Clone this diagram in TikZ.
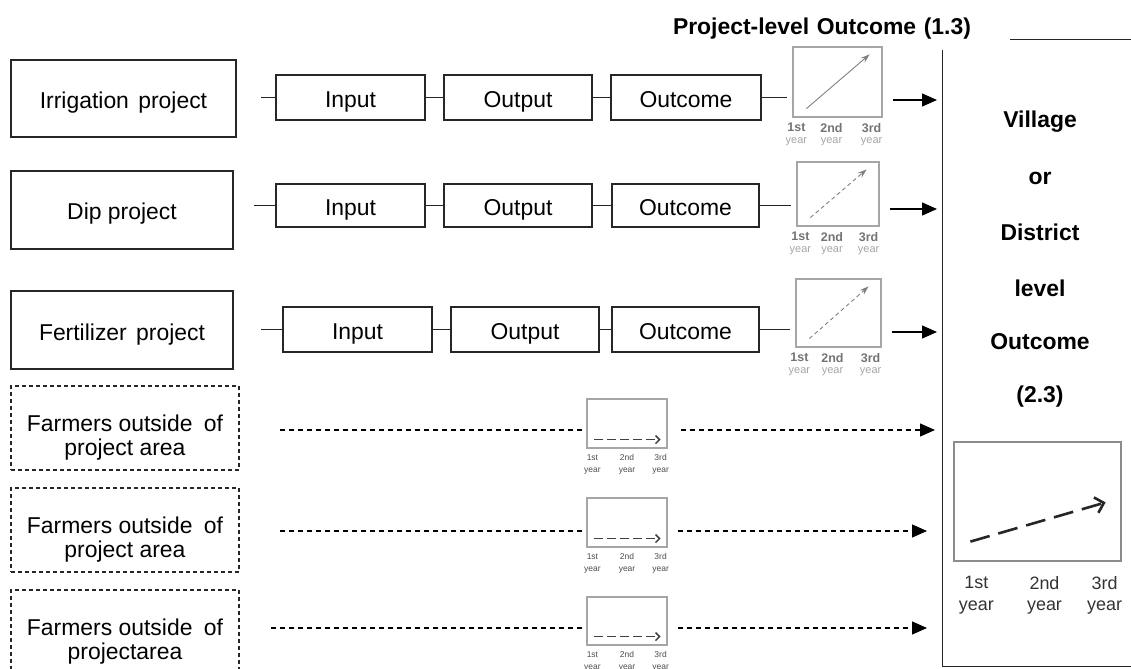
\documentclass[tikz,border=0pt]{standalone}
\usepackage{fontspec}
\setmainfont{Liberation Sans}
\usetikzlibrary{arrows.meta,calc}

\begin{document}
\begin{tikzpicture}[x=1bp, y=-1bp,
    pbox/.style={draw=black!85, line width=1.4bp, inner sep=0pt, text height=20bp, text depth=0bp,
        font=\fontsize{23}{24}\selectfont},
    sbox/.style={pbox, minimum width=149bp, minimum height=45bp},
    fbox/.style={draw=black!85, line width=1.1bp, dash pattern=on 4bp off 3bp, inner sep=0pt,
        align=center, minimum width=228bp, minimum height=84bp, font=\fontsize{23}{24.5}\selectfont,
        execute at begin node=\rule{0pt}{60bp}},
    gbox/.style={draw=black!35, line width=1.2bp, inner sep=0pt},
    btext/.style={font=\fontsize{23}{24}\selectfont\bfseries, inner sep=0pt},
    link/.style={draw=black!85, line width=1.4bp},
    garrow/.style={-{Stealth[length=9bp,width=6bp]}, line width=0.9bp, draw=black!50},
    sarrow/.style={-{Straight Barb[length=4bp,width=8bp]}, line width=1.5bp, dash pattern=on 9bp off 4bp, draw=black!75},
    barrow/.style={-{Straight Barb[length=8bp,width=16bp]}, line width=2.6bp, dash pattern=on 20bp off 9bp, draw=black!85},
    carrow/.style={-{Triangle[length=15bp,width=13bp]}, line width=1.4bp},
    dline/.style={line width=1.1bp, dash pattern=on 5bp off 4bp},
    yr/.style={font=\fontsize{12.5}{13}\selectfont\bfseries, text=black!55, inner sep=0pt},
    yrl/.style={font=\fontsize{11}{11}\selectfont, text=black!35, inner sep=0pt},
    yrs/.style={font=\fontsize{8.5}{9}\selectfont, text=black!70, inner sep=0pt},
    bl/.style={font=\fontsize{18}{19}\selectfont, text=black!80, inner sep=0pt},
]
\useasboundingbox (0,0) rectangle (1131,669);

% правая область и заголовок над ней
\node[draw=black!85, line width=1.4bp, inner sep=0pt, anchor=north west,
      minimum width=220bp, minimum height=627bp] (district) at (942,39) {};
\node[btext, fill=white, text width=337bp, align=left, minimum height=42bp] (title) at (841.5,29)
      {Project-level Outcome (1.3)};
\foreach \t/\y [count=\i] in {Village/122, or/178, District/232, level/288, Outcome/342, (2.3)/397}
  \node[btext] (lv\i) at (1040,\y) {\t};

% проекты: вход, выход, результат
\node[pbox, minimum width=225bp, minimum height=77bp] (irr) at (123.5,98.5) {Irrigation\hspace{3bp} project};
\node[sbox] (in1) at (350.5,97.5) {Input};
\node[sbox, minimum width=148bp] (out1) at (518,97.5) {Output};
\node[sbox, minimum width=150bp] (oc1) at (686,97.5) {Outcome};
\node[gbox, minimum width=89bp, minimum height=70bp] (g1) at (837.5,82) {};

\node[pbox, minimum width=222bp, minimum height=78bp] (dip) at (122,210) {Dip project};
\node[sbox, minimum height=43bp] (in2) at (350.5,205.5) {Input};
\node[sbox, minimum width=148bp, minimum height=43bp] (out2) at (518,205.5) {Output};
\node[sbox, minimum width=147bp, minimum height=43bp] (oc2) at (685.5,205.5) {Outcome};
\node[gbox, minimum width=82bp, minimum height=64bp] (g2) at (838,194) {};

\node[pbox, minimum width=222bp, minimum height=78bp] (fert) at (122,330) {Fertilizer\hspace{3bp} project};
\node[sbox] (in3) at (357.5,329.5) {Input};
\node[sbox, minimum width=148bp] (out3) at (525,329.5) {Output};
\node[sbox, minimum width=147bp] (oc3) at (685.5,329.5) {Outcome};
\node[gbox, minimum width=85bp, minimum height=68bp] (g3) at (838.5,313) {};

\coordinate (r1) at (900,100);
\coordinate (r2) at (900,209);
\coordinate (r3) at (900,332);

\foreach \r in {1,2,3} {
  \draw[link] (in\r) -- (out\r);
  \draw[link] (out\r) -- (oc\r);
  \draw[link, shorten >=5bp] (oc\r) -- (oc\r -| g\r.west);
  \draw[carrow, shorten <=10bp, shorten >=5bp] (g\r.east |- r\r) -- (district.west |- r\r);
}
\draw[link] (in1.west) -- ++(-14,0);
\draw[link] (in2.west) -- ++(-21,0);
\draw[link] (in3.west) -- ++(-21,0);

\draw[garrow] ($(g1.south west)+(14,-9)$) -- ($(g1.north east)+(-13,8)$);
\draw[garrow, dash pattern=on 4bp off 3bp] ($(g2.south west)+(14,-9)$) -- ($(g2.north east)+(-13,8)$);
\draw[garrow, dash pattern=on 4bp off 3bp] ($(g3.south west)+(14,-9)$) -- ($(g3.north east)+(-13,8)$);

\foreach \g in {g1,g2,g3} {
  \node[yr] (\g-a) at ($(\g.south west)+(4,10)$) {1st};
  \node[yr] (\g-b) at ($(\g.south)+(-6,10)$) {2nd};
  \node[yr] (\g-c) at ($(\g.south east)+(-11,10)$) {3rd};
  \foreach \k in {a,b,c}
    \node[yrl] (\g-\k y) at ($(\g-\k)+(0,14)$) {year};
}

% фермеры вне проекта
\node[fbox] (far1) at (125,428) {Farmers outside\hspace{5bp} of\\project area};
\node[fbox] (far2) at (125,530) {Farmers outside\hspace{5bp} of\\project area};
\node[fbox] (far3) at (125,632) {Farmers outside\hspace{5bp} of\\projectarea};

\node[gbox, minimum width=80bp, minimum height=49bp] (s1) at (627,423.5) {};
\node[gbox, minimum width=80bp, minimum height=49bp] (s2) at (627,522.5) {};
\node[gbox, minimum width=80bp, minimum height=48bp] (s3) at (627,621) {};

\coordinate (r4) at (600,430);
\coordinate (r5) at (600,531);
\coordinate (r6) at (600,628);

\draw[dline, shorten <=4bp] (s1.west |- r4) -- ++(-310,0);
\draw[dline, shorten <=4bp] (s2.west |- r5) -- ++(-307,0);
\draw[dline, shorten <=4bp] (s3.west |- r6) -- ++(-317,0);
\draw[carrow, dline, shorten <=13bp, shorten >=7bp] (s1.east |- r4) -- (district.west |- r4);
\draw[carrow, dline, shorten <=10bp, shorten >=15bp] (s2.east |- r5) -- (district.west |- r5);
\draw[carrow, dline, shorten <=10bp, shorten >=15bp] (s3.east |- r6) -- (district.west |- r6);

\foreach \g in {s1,s2,s3} {
  \draw[sarrow] ($(\g.south west)+(8,-9)$) -- ($(\g.south east)+(-7,-9)$);
  \node[yrs] (\g-a) at ($(\g.south west)+(6,9)$) {1st};
  \node[yrs] (\g-b) at ($(\g.south)+(0,9)$) {2nd};
  \node[yrs] (\g-c) at ($(\g.south east)+(-7,9)$) {3rd};
  \foreach \k in {a,b,c}
    \node[yrs] (\g-\k y) at ($(\g-\k)+(0,13)$) {year};
}

% общий график
\node[gbox, draw=black!45, minimum width=167bp, minimum height=119bp] (big) at (1037.5,501.5) {};
\draw[barrow] ($(big.south west)+(17,-20)$) -- ($(big.north east)+(-16,61)$);
\node[bl] (big-a) at ($(big.south west)+(23,21)$) {1st};
\node[bl] (big-b) at ($(big.south)+(7,21)$) {2nd};
\node[bl] (big-c) at ($(big.south east)+(-17,21)$) {3rd};
\foreach \k in {a,b,c}
  \node[bl] (big-\k y) at ($(big-\k)+(0,25)$) {year};
\end{tikzpicture}
\end{document}
